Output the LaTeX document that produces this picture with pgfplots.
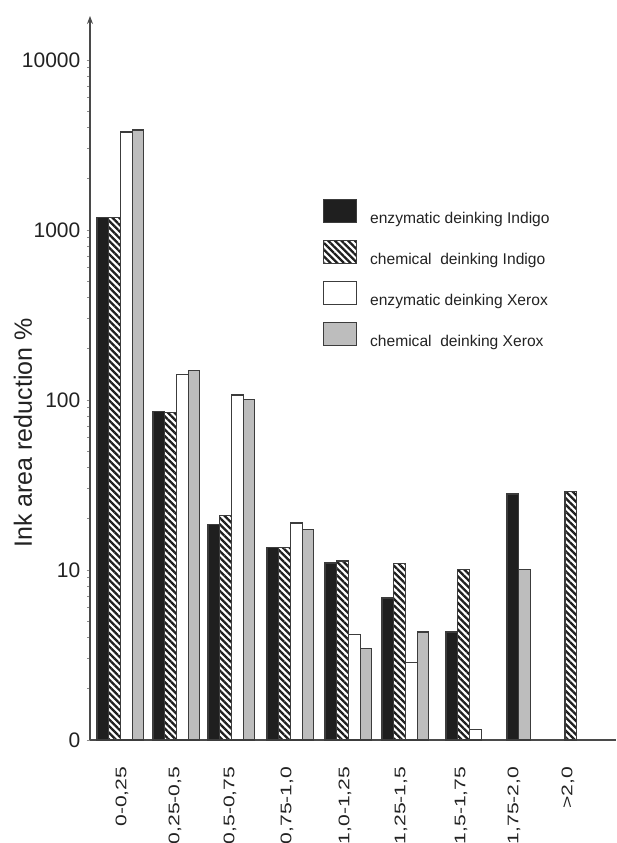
\documentclass[border=0pt]{standalone}
\usepackage{pgfplots}
\pgfplotsset{compat=1.18}
\usepackage{fontspec}
\setmainfont{Liberation Sans}
\usetikzlibrary{patterns.meta,arrows.meta}
\definecolor{edge}{HTML}{3C3C3C}
\definecolor{barblack}{HTML}{1F1F1F}
\definecolor{bargray}{HTML}{BDBDBD}
\definecolor{axcol}{HTML}{4A4A4A}
\definecolor{txt}{HTML}{222222}
\begin{document}
\begin{tikzpicture}[x=1pt,y=1pt]
\useasboundingbox (0,0) rectangle (616,843);
\begin{axis}[
  at={(90pt,103pt)}, anchor=south west,
  scale only axis, width=526pt, height=724pt,
  xmin=90, xmax=616,
  ymode=log, ymin=1, ymax=18150,
  axis x line=bottom, axis y line=left,
  x axis line style={-, draw=axcol, line width=1.1pt},
  y axis line style={-{Stealth[length=8pt,width=6pt]}, draw=axcol, line width=1.1pt},
  ytick={1,10,100,1000,10000},
  yticklabels={0,10,100,1000,10000},
  minor ytick={},
  tick align=outside,
  major tick length=3.5pt,
  ytick style={draw=black!45, line width=0.8pt},
  xtick style={draw=none},
  yticklabel style={inner sep=0pt, text=txt, font=\fontsize{21}{24}\selectfont},
  yticklabel shift=6pt,
  xtick={122,175,230,287,345,401,461,514,568},
  xticklabels={\scalebox{1.37}[1]{0-0,25},\scalebox{1.37}[1]{0,25-0,5},\scalebox{1.37}[1]{0,5-0,75},\scalebox{1.37}[1]{0,75-1,0},\scalebox{1.37}[1]{1,0-1,25},\scalebox{1.37}[1]{1,25-1,5},\scalebox{1.37}[1]{1,5-1,75},\scalebox{1.37}[1]{1,75-2,0},\scalebox{1.37}[1]{>2,0}},
  xticklabel style={rotate=90, anchor=east, inner sep=0pt, text=txt, font=\fontsize{15.4}{18}\selectfont},
  xticklabel shift=23pt,
  ylabel={Ink area reduction \%},
  ylabel style={at={(axis description cs:-0.1274,0.424)}, anchor=center, inner sep=0pt, text=txt, font=\fontsize{25}{28}\selectfont},
  legend cell align=left,
  legend image code/.code={\draw[#1] (0pt,-4pt) rectangle (33pt,19pt);},
  legend style={at={(axis description cs:0.443,0.7472)}, anchor=north west,
    draw=none, fill=none, inner sep=0pt, outer sep=0pt, row sep=15pt,
    nodes={inner sep=0pt, text=txt, font=\fontsize{15.6}{18}\selectfont},
    /tikz/every odd column/.append style={column sep=13pt}},
]
% enzymatic deinking Indigo
\addplot[ybar, bar width=11.7, bar shift=0pt, draw=edge, line width=1.1pt, fill=barblack]
  coordinates {(102.85,1190) (158.85,86) (213.85,18.6) (272.85,13.5) (330.85,11.0) (387.85,6.84) (451.85,4.32) (512.85,28)};
\addlegendentry{enzymatic deinking Indigo}
% chemical deinking Indigo
\addplot[ybar, bar width=11.7, bar shift=0pt, draw=edge, line width=1.1pt, pattern={Lines[angle=-45,distance=4.7pt,line width=2.3pt]}, pattern color=barblack]
  coordinates {(114.55,1190) (170.55,84) (225.55,20.8) (284.55,13.5) (342.55,11.3) (399.55,10.95) (463.55,10.1) (570.85,28.8)};
\addlegendentry{chemical\ \ deinking Indigo}
% enzymatic deinking Xerox
\addplot[ybar, bar width=11.7, bar shift=0pt, draw=edge, line width=1.1pt, fill=white]
  coordinates {(126.25,3770) (182.25,142) (237.25,107) (296.25,18.9) (354.25,4.15) (411.25,2.84) (475.25,1.15)};
\addlegendentry{enzymatic deinking Xerox}
% chemical deinking Xerox
\addplot[ybar, bar width=11.7, bar shift=0pt, draw=edge, line width=1.1pt, fill=bargray]
  coordinates {(137.95,3875) (193.95,150) (248.95,101) (307.95,17.4) (365.95,3.47) (422.95,4.32) (524.55,10.1)};
\addlegendentry{chemical\ \ deinking Xerox}
\end{axis}
\end{tikzpicture}
\end{document}
